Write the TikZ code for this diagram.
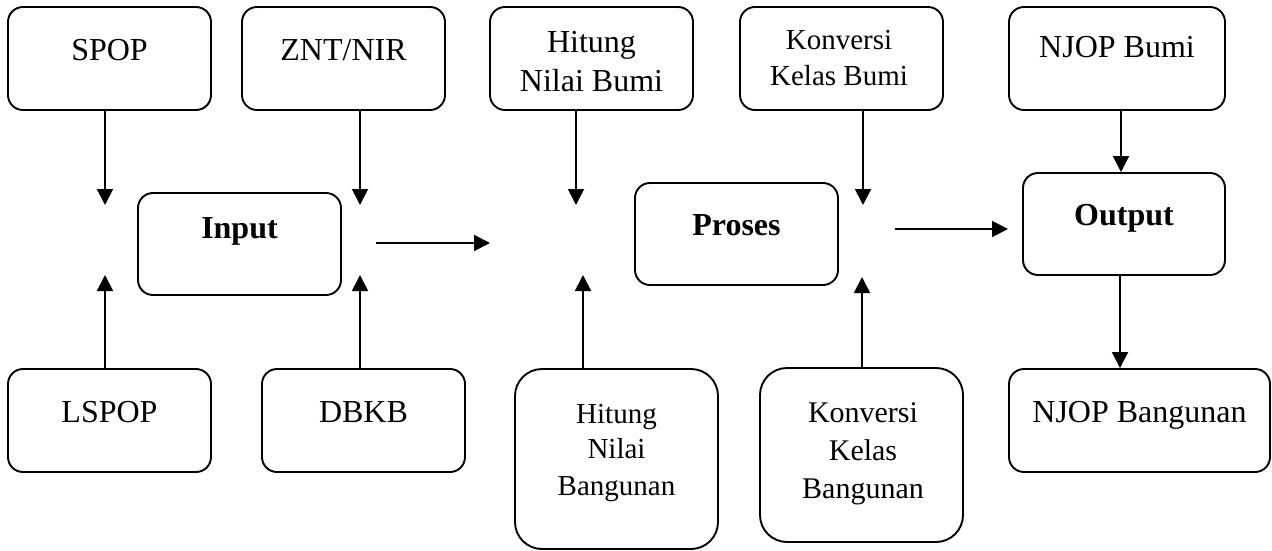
\documentclass[tikz,border=0pt]{standalone}
\usepackage{fontspec}
\setmainfont{Liberation Serif}
\usetikzlibrary{arrows.meta}
\tikzset{
  box/.style={draw, line width=1.9pt, rounded corners=15pt, inner sep=0pt, minimum width=203pt, minimum height=103pt},
  tallbox/.style={box, rounded corners=27pt},
  txt/.style={inner sep=0pt, anchor=base, font=\fontsize{32}{38}\selectfont},
  txtb/.style={txt, font=\fontsize{32}{38}\selectfont\bfseries},
  arr/.style={line width=1.9pt, -{Triangle[length=16pt,width=16pt]}}
}
\begin{document}
\begin{tikzpicture}[x=1pt,y=-1pt]
\useasboundingbox (0,0) rectangle (1272,551);
% boxes
\node[box] (spop) at (109.5,58.5) {};
\node[box] (znt) at (343.5,58.5) {};
\node[box, minimum height=102pt] (input) at (239.5,244) {};
\node[box] (lspop) at (109.5,420.5) {};
\node[box] (dbkb) at (363.5,420.5) {};
\node[box] (hnbumi) at (591.5,58.5) {};
\node[box] (kkbumi) at (841.5,58.5) {};
\node[box, minimum height=102pt] (proses) at (736.5,234) {};
\node[tallbox, minimum height=180pt] (hnbang) at (616.5,459) {};
\node[tallbox, minimum height=174pt] (kkbang) at (861.5,455) {};
\node[box, minimum width=216pt] (njopbumi) at (1117,58.5) {};
\node[box, minimum width=202pt, minimum height=102pt] (output) at (1124,224) {};
\node[box, minimum width=261pt] (njopbang) at (1139.5,420.5) {};
% texts
\node[txt] (tspop) at (109.5,60) {SPOP};
\node[txt] (tznt) at (343.5,60) {ZNT/NIR};
\node[txtb] (tinput) at (239.5,238) {Input};
\node[txt] (tlspop) at (109.5,422) {LSPOP};
\node[txt] (tdbkb) at (363.5,422) {DBKB};
\node[txt] (thnbumiA) at (591.5,53) {Hitung};
\node[txt] (thnbumiB) at (591.5,92) {Nilai Bumi};
\node[txt, font=\fontsize{29}{34}\selectfont] (tkkbumiA) at (839,50) {Konversi};
\node[txt, font=\fontsize{29}{34}\selectfont] (tkkbumiB) at (839,85) {Kelas Bumi};
\node[txtb] (tproses) at (736.5,235) {Proses};
\node[txt, font=\fontsize{29}{34}\selectfont] (thnbangA) at (616.5,423) {Hitung};
\node[txt, font=\fontsize{29}{34}\selectfont] (thnbangB) at (616.5,458) {Nilai};
\node[txt, font=\fontsize{29}{34}\selectfont] (thnbangC) at (616.5,495) {Bangunan};
\node[txt, font=\fontsize{30}{36}\selectfont] (tkkbangA) at (863,422) {Konversi};
\node[txt, font=\fontsize{30}{36}\selectfont] (tkkbangB) at (863,460) {Kelas};
\node[txt, font=\fontsize{30}{36}\selectfont] (tkkbangC) at (863,498) {Bangunan};
\node[txt] (tnjopbumi) at (1117,58) {NJOP Bumi};
\node[txtb] (toutput) at (1124,225) {Output};
\node[txt] (tnjopbang) at (1139.5,422) {NJOP Bangunan};
% free ends
\coordinate (c1) at (105,205);
\coordinate (c2) at (360,205);
\coordinate (c3) at (105,275);
\coordinate (c4) at (360,275);
\coordinate (c5) at (576,205);
\coordinate (c6) at (863,205);
\coordinate (c7) at (583,275);
\coordinate (c8) at (862,277);
\coordinate (h1) at (376,243);
\coordinate (h2) at (490,243);
\coordinate (h3) at (895,229);
\coordinate (h4) at (1008,229);
\coordinate (v1) at (1121,0);
\coordinate (v2) at (1120,0);
% connectors
\draw[arr] (spop.south -| c1) -- (c1);
\draw[arr] (znt.south -| c2) -- (c2);
\draw[arr] (lspop.north -| c3) -- (c3);
\draw[arr] (dbkb.north -| c4) -- (c4);
\draw[arr] (hnbumi.south -| c5) -- (c5);
\draw[arr] (kkbumi.south -| c6) -- (c6);
\draw[arr] (hnbang.north -| c7) -- (c7);
\draw[arr] (kkbang.north -| c8) -- (c8);
\draw[arr] (h1) -- (h2);
\draw[arr] (h3) -- (h4);
\draw[arr] (njopbumi.south -| v1) -- (output.north -| v1);
\draw[arr] (output.south -| v2) -- (njopbang.north -| v2);
\end{tikzpicture}
\end{document}
